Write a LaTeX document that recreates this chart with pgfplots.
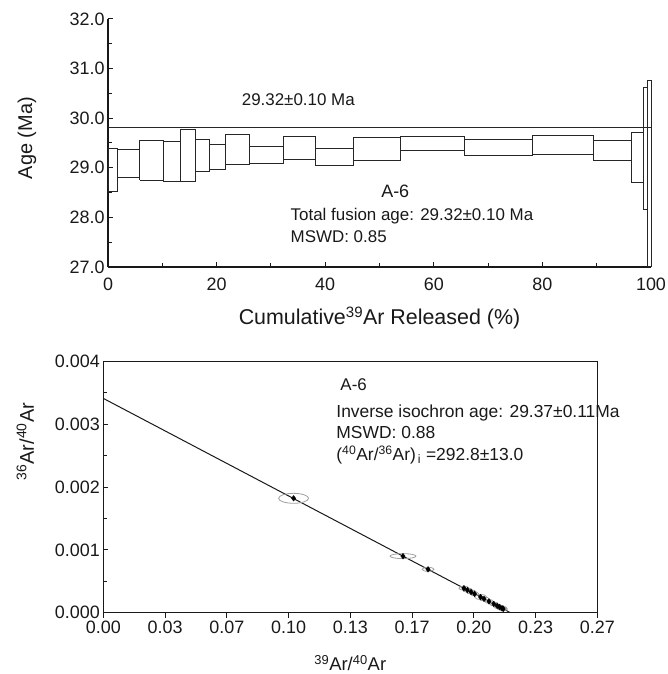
\documentclass[border=0pt]{standalone}
\usepackage{fontspec}
\setmainfont{Liberation Sans}
\usepackage{pgfplots}
\pgfplotsset{compat=1.18}
\usepackage{pgfplotstable}

\pgfdeclareplotmark{errell}{%
  \pgfpathellipse{\pgfpointorigin}{\pgfqpoint{\ellrx pt}{0pt}}{\pgfqpoint{0pt}{\ellry pt}}%
  \pgfusepathqstroke}

\pgfplotstableread{
x y rx ry
0.1040 0.00182 15 5
0.1638 0.00090 13 2.5
0.1775 0.00069 6 2
0.1971 0.00039 5 2
0.1990 0.00036 5 2
0.2010 0.00033 5 2
0.2029 0.00030 4 2
0.2062 0.00025 6 2.5
0.2081 0.00022 5 2
0.2108 0.00018 4 2
0.2134 0.00014 4 2
0.2153 0.00011 4 2
0.2166 0.00009 5 2
0.2179 0.00007 5 2
0.2186 0.00006 4 2
}\isodata

\begin{document}
\begin{tikzpicture}
\path[use as bounding box] (0bp,0bp) rectangle (668bp,674bp);

% ---------- Top: age spectrum ----------
\begin{axis}[
  at={(108bp,407bp)}, anchor=south west,
  scale only axis, width=543bp, height=248bp,
  xmin=0, xmax=100, ymin=27, ymax=32,
  axis x line*=bottom, axis y line*=left,
  axis line style={line width=1.4bp, -, black!90},
  xtick={0,20,...,100}, minor xtick={10,30,50,70,90},
  ytick={27,28,...,32}, yticklabels={27.0,28.0,29.0,30.0,31.0,32.0},
  minor ytick={27.5,28.5,...,31.5},
  tick align=inside,
  major tick length=5bp, minor tick length=4bp,
  tick style={line width=1bp, black!90},
  ticklabel style={font=\fontsize{18}{21}\selectfont, black!90},
  /pgf/number format/assume math mode=true,
  xticklabel style={yshift=-7bp},
  xlabel={Cumulative\textsuperscript{39}Ar Released (\%)},
  ylabel={Age (Ma)},
  x label style={at={(axis description cs:0.5,-0.205)}, anchor=center, font=\fontsize{21.5}{24}\selectfont, black!90},
  y label style={at={(axis description cs:-0.149,0.52)}, anchor=center, font=\fontsize{20}{24}\selectfont, black!90},
  clip=false,
  unbounded coords=jump,
]
\addplot[line width=1bp, black!85] coordinates {
(0,28.53)(1.71,28.53)(1.71,29.38)(0,29.38)(0,28.53) (nan,nan)
(1.71,28.81)(5.89,28.81)(5.89,29.36)(1.71,29.36)(1.71,28.81) (nan,nan)
(5.89,28.75)(10.18,28.75)(10.18,29.55)(5.89,29.55)(5.89,28.75) (nan,nan)
(10.18,28.73)(13.39,28.73)(13.39,29.53)(10.18,29.53)(10.18,28.73) (nan,nan)
(13.39,28.73)(16.20,28.73)(16.20,29.78)(13.39,29.78)(13.39,28.73) (nan,nan)
(16.20,28.92)(18.66,28.92)(18.66,29.57)(16.20,29.57)(16.20,28.92) (nan,nan)
(18.66,28.97)(21.73,28.97)(21.73,29.47)(18.66,29.47)(18.66,28.97) (nan,nan)
(21.73,29.07)(26.15,29.07)(26.15,29.67)(21.73,29.67)(21.73,29.07) (nan,nan)
(26.15,29.08)(32.29,29.08)(32.29,29.43)(26.15,29.43)(26.15,29.08) (nan,nan)
(32.29,29.17)(38.18,29.17)(38.18,29.63)(32.29,29.63)(32.29,29.17) (nan,nan)
(38.18,29.04)(45.18,29.04)(45.18,29.38)(38.18,29.38)(38.18,29.04) (nan,nan)
(45.18,29.14)(53.90,29.14)(53.90,29.61)(45.18,29.61)(45.18,29.14) (nan,nan)
(53.90,29.34)(65.60,29.34)(65.60,29.64)(53.90,29.64)(53.90,29.34) (nan,nan)
(65.60,29.25)(78.10,29.25)(78.10,29.57)(65.60,29.57)(65.60,29.25) (nan,nan)
(78.10,29.27)(89.40,29.27)(89.40,29.66)(78.10,29.66)(78.10,29.27) (nan,nan)
(89.40,29.14)(96.40,29.14)(96.40,29.56)(89.40,29.56)(89.40,29.14) (nan,nan)
(96.40,28.71)(98.60,28.71)(98.60,29.71)(96.40,29.71)(96.40,28.71) (nan,nan)
(98.60,28.15)(99.40,28.15)(99.40,30.61)(98.60,30.61)(98.60,28.15) (nan,nan)
(99.40,27.00)(100,27.00)(100,30.77)(99.40,30.77)(99.40,27.00)
};
\addplot[line width=1bp, black!85] coordinates {(0,29.81)(100,29.81)};
\node[anchor=west, font=\fontsize{17}{20}\selectfont, black!90] at (axis cs:24.0,30.37) {29.32±0.10 Ma};
\node[anchor=center, font=\fontsize{18}{22}\selectfont, black!90] at (axis cs:52.9,28.52) {A-6};
\node[anchor=west, font=\fontsize{17}{20}\selectfont, black!90] at (axis cs:33.0,28.03) {Total fusion age: 29.32±0.10 Ma};
\node[anchor=west, font=\fontsize{17}{20}\selectfont, black!90] at (axis cs:33.0,27.62) {MSWD: 0.85};
\end{axis}

% ---------- Bottom: inverse isochron ----------
\begin{axis}[
  at={(103.3bp,61.3bp)}, anchor=south west,
  scale only axis, width=494bp, height=251.4bp,
  xmin=0, xmax=0.27, ymin=0, ymax=0.004,
  axis line style={line width=1.2bp, black!90},
  xtick={0,0.03375,0.0675,0.10125,0.135,0.16875,0.2025,0.23625,0.27},
  xticklabels={0.00,0.03,0.07,0.10,0.13,0.17,0.20,0.23,0.27},
  ytick={0,0.001,0.002,0.003,0.004},
  yticklabels={0.000,0.001,0.002,0.003,0.004},
  minor ytick={0.0005,0.0015,0.0025,0.0035},
  scaled ticks=false,
  xtick pos=bottom, ytick pos=left,
  xtick align=outside, ytick align=inside,
  major tick length=5bp, minor tick length=4bp,
  tick style={line width=1bp, black!90},
  ticklabel style={font=\fontsize{18}{21}\selectfont, black!90},
  /pgf/number format/assume math mode=true,
  xlabel={\textsuperscript{39}Ar/\textsuperscript{40}Ar},
  ylabel={\textsuperscript{36}Ar/\textsuperscript{40}Ar},
  x label style={at={(axis description cs:0.5,-0.2)}, anchor=center, font=\fontsize{18.5}{22}\selectfont, black!90},
  y label style={at={(axis description cs:-0.158,0.68)}, anchor=center, font=\fontsize{20}{24}\selectfont, black!90},
  clip=false,
]
\addplot[black!90, line width=1bp] coordinates {(0,0.00341)(0.2225,0)};
\addplot[gray!75, only marks, mark=errell, line width=0.8bp,
  visualization depends on={\thisrow{rx}\as\ellrx},
  visualization depends on={\thisrow{ry}\as\ellry}]
  table[x=x,y=y] {\isodata};
\addplot[black, only marks, mark=diamond*, mark size=2.8bp] table[x=x,y=y] {\isodata};
\node[anchor=west, font=\fontsize{17}{20}\selectfont, black!90] at (axis cs:0.1277,0.00363) {A-6};
\node[anchor=west, font=\fontsize{17.5}{20}\selectfont, black!90] at (axis cs:0.1255,0.00318) {Inverse isochron age: 29.37±0.11Ma};
\node[anchor=west, font=\fontsize{17.5}{20}\selectfont, black!90] at (axis cs:0.1255,0.002864) {MSWD: 0.88};
\node[anchor=west, font=\fontsize{17.5}{20}\selectfont, black!90] at (axis cs:0.1255,0.00251) {(\textsuperscript{40}Ar/\textsuperscript{36}Ar)\textsubscript{\,i} =292.8±13.0};
\end{axis}
\end{tikzpicture}
\end{document}
